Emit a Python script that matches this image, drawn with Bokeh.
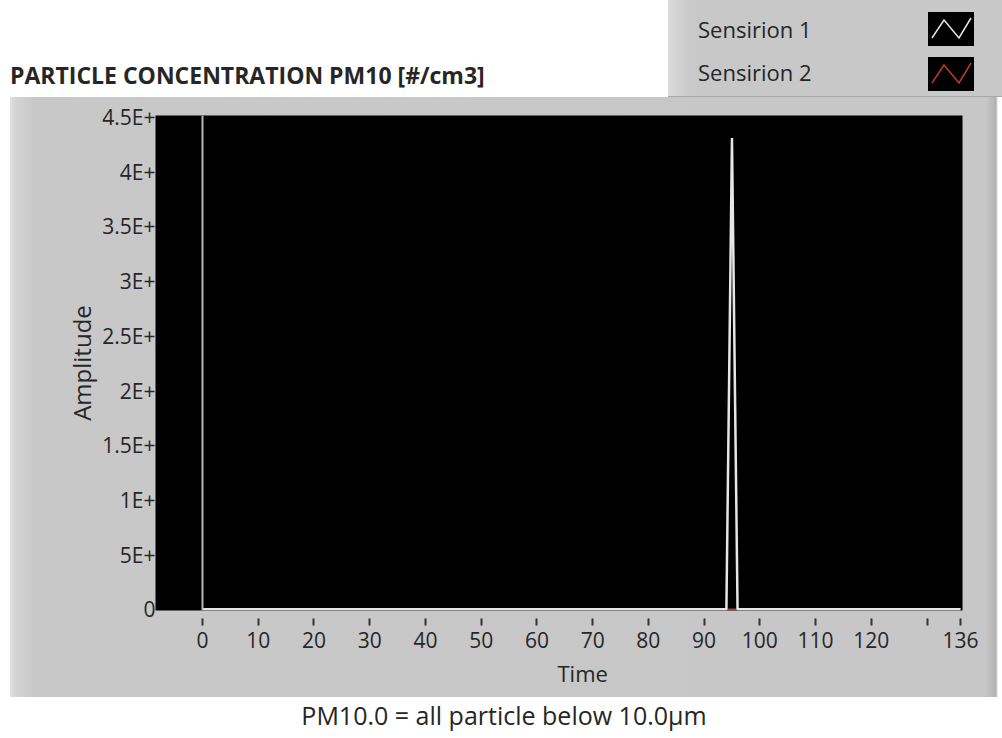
from bokeh.plotting import figure
from bokeh.models import Range1d, FixedTicker, Span, Title, Div
from bokeh.layouts import column
from bokeh.embed import file_html
from bokeh.resources import INLINE

# Sample times and the two sensor traces (particle concentration, #/cm3)
time_s = [0, 94, 95, 96, 136]
sensirion_1 = [0.0, 0.0, 4.31e12, 0.0, 0.0]
sensirion_2 = [0.0, 0.0, 0.0, 0.0, 0.0]

x_ticks = [0, 10, 20, 30, 40, 50, 60, 70, 80, 90, 100, 110, 120, 130, 136]
x_tick_labels = ["0", "10", "20", "30", "40", "50", "60", "70", "80", "90",
                 "100", "110", "120", "", "136"]
y_ticks = [0, 0.5e12, 1e12, 1.5e12, 2e12, 2.5e12, 3e12, 3.5e12, 4e12, 4.5e12]
y_tick_labels = ["0", "5E+", "1E+", "1.5E+", "2E+", "2.5E+", "3E+", "3.5E+", "4E+", "4.5E+"]

FONT = "Open Sans"
TEXT = "#262626"
TICK_SIZE = "21px"

# grey instrument panel behind the chart, with bevelled edges
PANEL_BG = ("linear-gradient(to right, #ffffff 0px, #ffffff 10px, #e4e4e4 10px, "
            "#d6d6d6 14px, #c8c8c8 34px, #c7c7c7 986px, #b2b2b2 996px, "
            "#ffffff 998px, #ffffff 100%)")

p = figure(width=988, height=600,
           x_range=Range1d(-8.43, 136.36), y_range=Range1d(-0.012e12, 4.515e12),
           output_backend="svg", toolbar_location=None,
           min_border_left=145, min_border_right=36,
           min_border_top=18, min_border_bottom=87,
           background_fill_color="black", border_fill_color=None,
           outline_line_color=None, margin=(0, 4, 0, 10))
p.grid.visible = False

# origin marker at t = 0
p.add_layout(Span(location=0, dimension="height", line_color="#b8b8b8", line_width=2))

p.line(time_s, sensirion_2, line_color="#c0392b", line_width=1.5)
p.line(time_s, sensirion_1, line_color="#e6e6e6", line_width=2.5)

xa = p.xaxis[0]
xa.ticker = FixedTicker(ticks=x_ticks)
xa.major_label_overrides = {t: l for t, l in zip(x_ticks, x_tick_labels)}
xa.axis_line_color = None
xa.minor_tick_line_color = None
xa.major_tick_in = -8
xa.major_tick_out = 15
xa.major_tick_line_color = "#333333"
xa.major_tick_line_width = 2
xa.major_label_standoff = 6
xa.major_label_text_font = FONT
xa.major_label_text_font_size = TICK_SIZE
xa.major_label_text_color = TEXT

ya = p.yaxis[0]
ya.ticker = FixedTicker(ticks=y_ticks)
ya.major_label_overrides = {t: l for t, l in zip(y_ticks, y_tick_labels)}
ya.axis_line_color = None
ya.minor_tick_line_color = None
ya.major_tick_in = 0
ya.major_tick_out = 0
ya.major_label_standoff = 0
ya.major_label_text_font = FONT
ya.major_label_text_font_size = TICK_SIZE
ya.major_label_text_color = TEXT
ya.axis_label = "Amplitude"
ya.axis_label_text_font = FONT
ya.axis_label_text_font_size = "24px"
ya.axis_label_text_font_style = "normal"
ya.axis_label_text_color = TEXT
ya.axis_label_standoff = 1

# x-axis caption, centred on the 0..136 span rather than the whole frame
p.add_layout(Title(text="Time", align="left", offset=402, standoff=10,
                   text_font=FONT, text_font_size="22px", text_font_style="normal",
                   text_color=TEXT), "below")

def swatch(color):
    return (
        '<svg width="46" height="34" style="display:block">'
        '<rect x="0" y="0" width="46" height="34" fill="black"/>'
        f'<polyline points="4,26 16,8 31,26 43,6" fill="none" stroke="{color}" stroke-width="1.5"/>'
        '</svg>'
    )

top_html = f"""
<div style="position:relative;width:1002px;height:97px;background:white;font-family:'{FONT}';color:{TEXT};">
  <div style="position:absolute;left:10px;top:59px;font-size:23px;line-height:32px;font-weight:bold;white-space:nowrap;">PARTICLE CONCENTRATION PM10 [#/cm3]</div>
  <div style="position:absolute;left:668px;top:0px;width:334px;height:97px;
              background:linear-gradient(to right,#dcdcdc 0px,#c8c8c8 22px,#c8c8c8 100%);
              border-bottom:1px solid #a8a8a8;box-sizing:border-box;">
    <div style="position:absolute;left:30px;top:14px;font-size:22px;line-height:30px;white-space:nowrap;">Sensirion 1</div>
    <div style="position:absolute;left:260px;top:12px;">{swatch('#e6e6e6')}</div>
    <div style="position:absolute;left:30px;top:57px;font-size:22px;line-height:30px;white-space:nowrap;">Sensirion 2</div>
    <div style="position:absolute;left:260px;top:57px;">{swatch('#c0392b')}</div>
  </div>
</div>
"""
top = Div(text=top_html, width=1002, height=97, margin=0)

bottom_html = f"""
<div style="position:relative;width:1002px;height:41px;background:white;font-family:'{FONT}';color:{TEXT};">
  <div style="position:absolute;left:0;width:1008px;top:2px;text-align:center;font-size:25px;line-height:32px;white-space:nowrap;">PM10.0 = all particle below 10.0µm</div>
</div>
"""
bottom = Div(text=bottom_html, width=1002, height=41, margin=0)

layout = column(top, p, bottom, spacing=0, margin=0, styles={"background": PANEL_BG})

open("out.html", "w").write(file_html(layout, INLINE))
